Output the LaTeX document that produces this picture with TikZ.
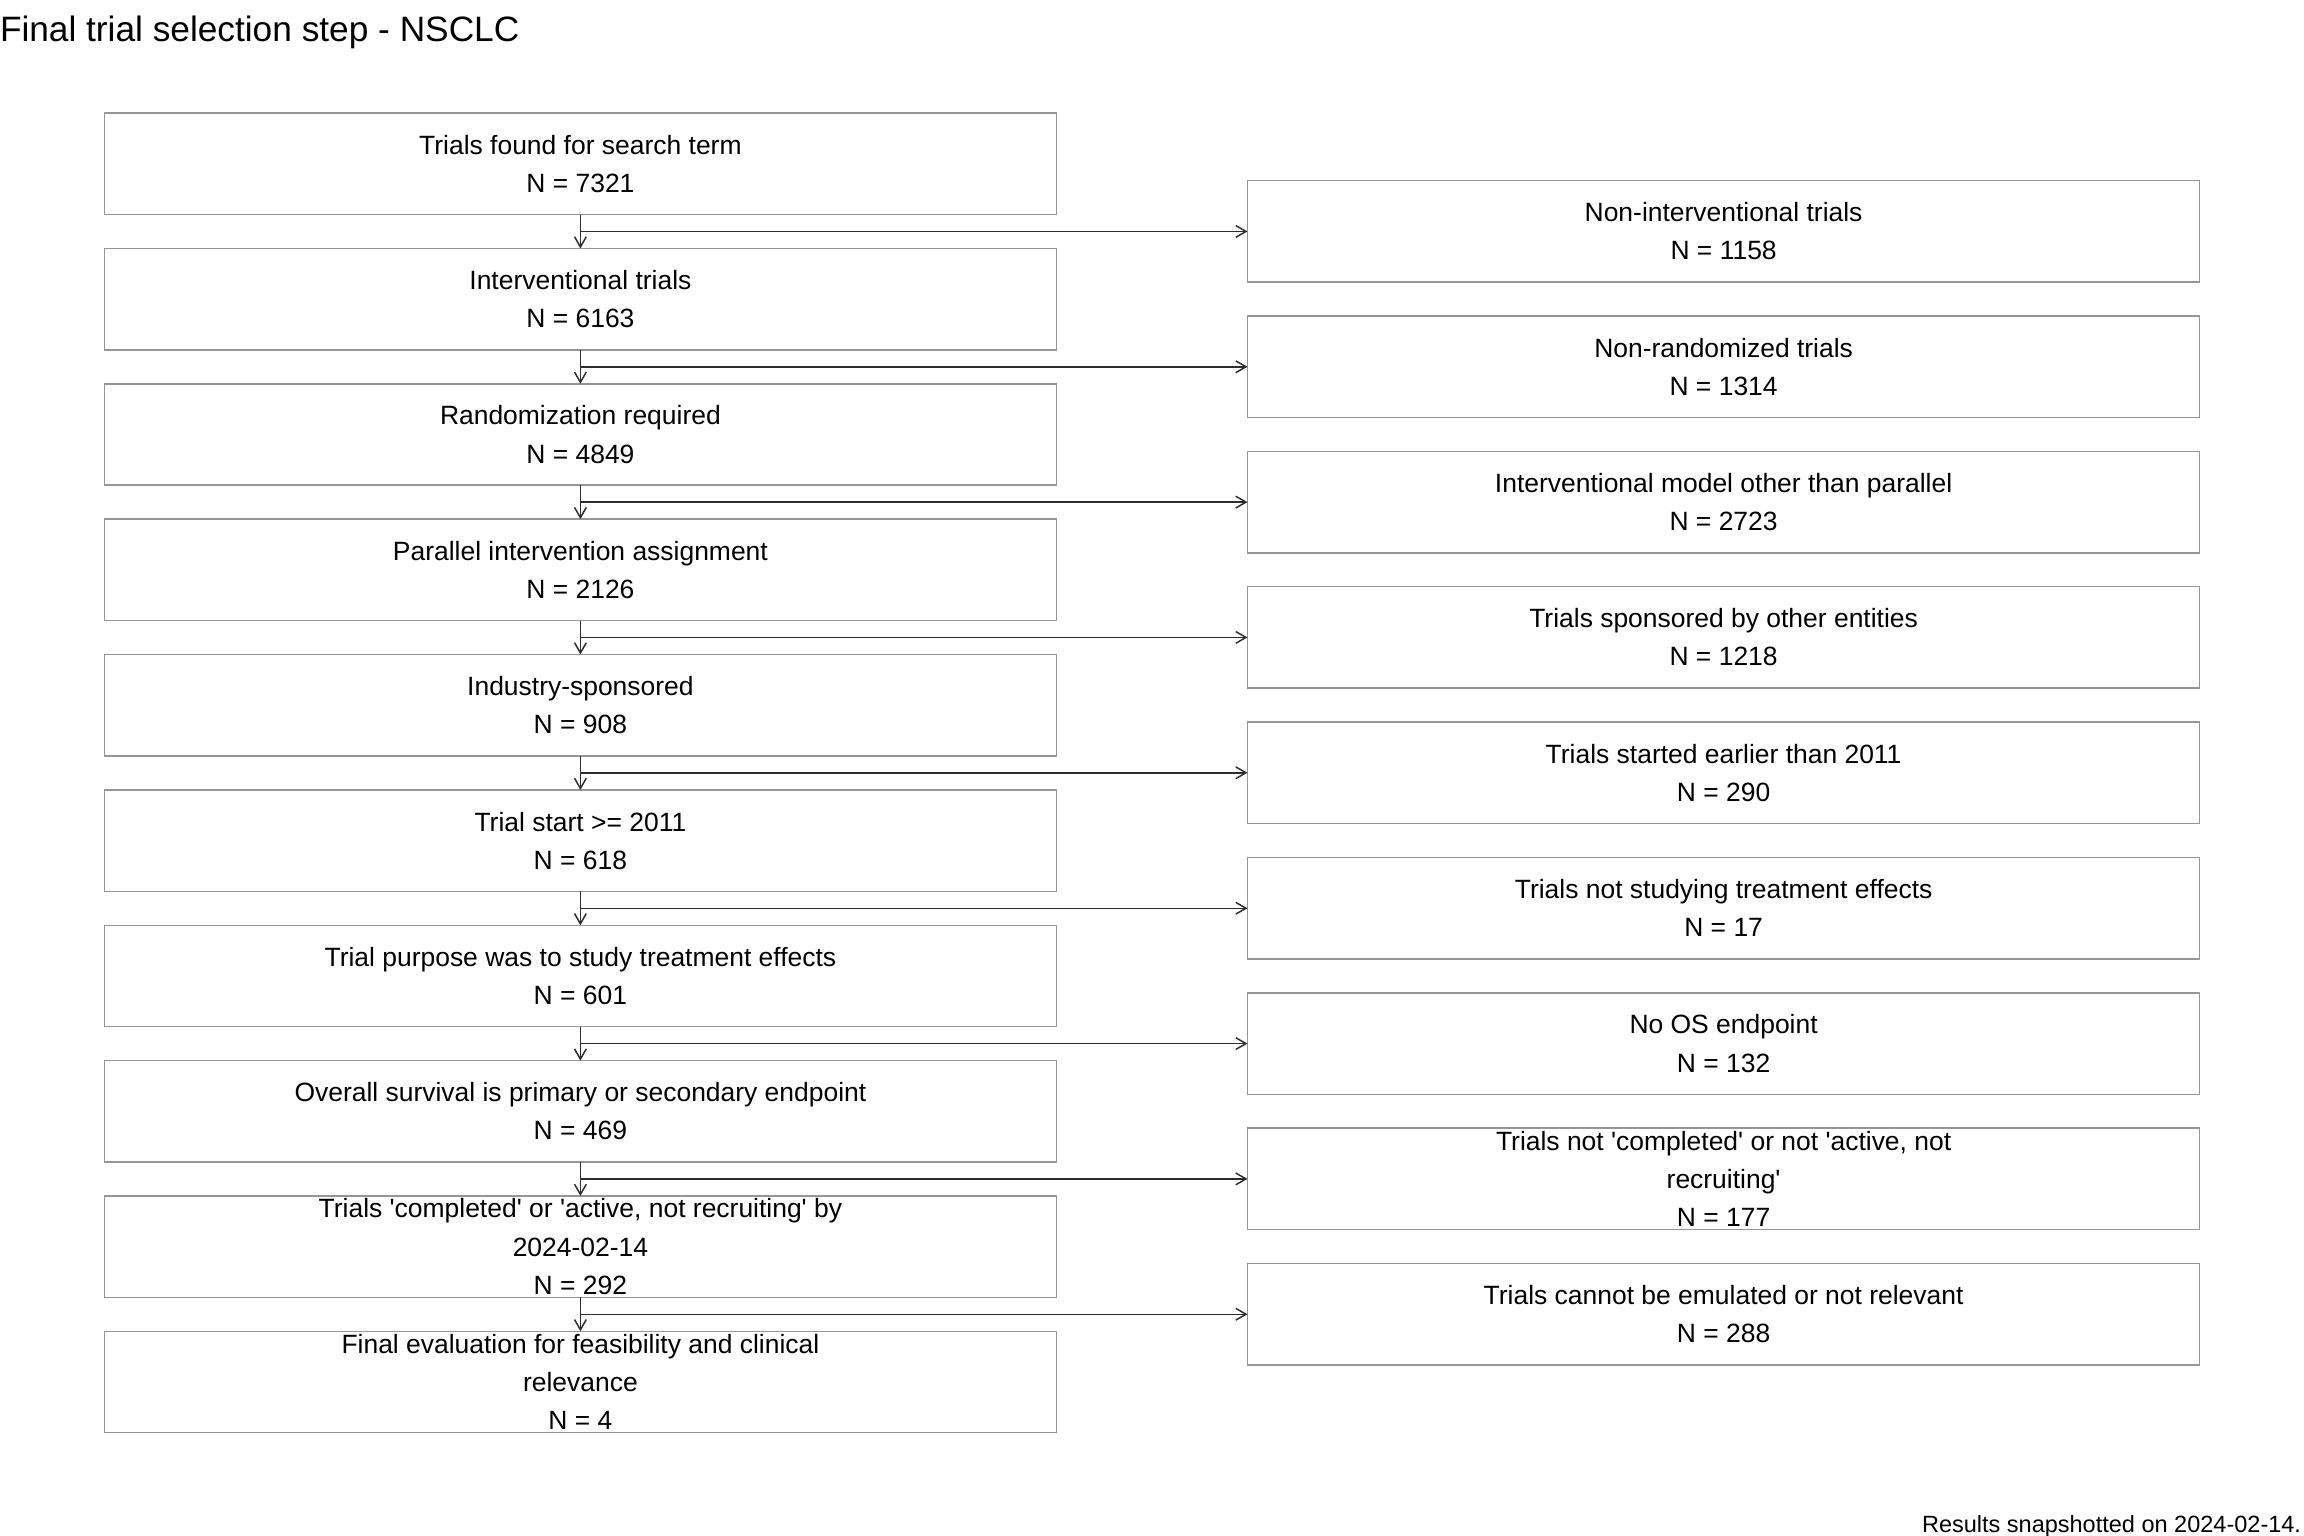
\documentclass[tikz,border=0pt]{standalone}
\usepackage{fontspec}
\setmainfont{Liberation Sans}
\usetikzlibrary{arrows.meta}
\definecolor{boxgray}{RGB}{150,150,150}
\definecolor{linegray}{RGB}{45,45,45}
\newcommand{\q}{\textquotesingle}
\begin{document}
\begin{tikzpicture}[x=1pt,y=-1pt,
  box/.style={draw=boxgray, line width=1pt, minimum width=648pt, minimum height=69pt,
    inner sep=0pt, outer sep=0pt, align=center, font=\fontsize{18}{26}\selectfont},
  conn/.style={draw=linegray, line width=1pt, -{Straight Barb[length=7pt,width=8pt]}},
  txt/.style={inner sep=0pt, outer sep=0pt}]
\useasboundingbox (0,0) rectangle (1568,1045);
\fill[white] (0,0) rectangle (1568,1045);

\node[txt, anchor=base west, font=\fontsize{24}{28}\selectfont] (title) at (0,28) {Final trial selection step - NSCLC};
\node[txt, anchor=base east, font=\fontsize{16}{20}\selectfont] (foot) at (1566,1043) {Results snapshotted on 2024-02-14.};

% left column
\node[box] (l0) at (395,111.5) {Trials found for search term\\N = 7321};
\node[box] (l1) at (395,203.6) {Interventional trials\\N = 6163};
\node[box] (l2) at (395,295.7) {Randomization required\\N = 4849};
\node[box] (l3) at (395,387.8) {Parallel intervention assignment\\N = 2126};
\node[box] (l4) at (395,479.9) {Industry-sponsored\\N = 908};
\node[box] (l5) at (395,572.1) {Trial start >= 2011\\N = 618};
\node[box] (l6) at (395,664.2) {Trial purpose was to study treatment effects\\N = 601};
\node[box] (l7) at (395,756.3) {Overall survival is primary or secondary endpoint\\N = 469};
\node[box] (l8) at (395,848.4) {Trials \q completed\q{} or \q active, not recruiting\q{} by\\2024-02-14\\N = 292};
\node[box] (l9) at (395,940.5) {Final evaluation for feasibility and clinical\\relevance\\N = 4};

% right column
\node[box] (r0) at (1173,157.5) {Non-interventional trials\\N = 1158};
\node[box] (r1) at (1173,249.6) {Non-randomized trials\\N = 1314};
\node[box] (r2) at (1173,341.7) {Interventional model other than parallel\\N = 2723};
\node[box] (r3) at (1173,433.8) {Trials sponsored by other entities\\N = 1218};
\node[box] (r4) at (1173,525.9) {Trials started earlier than 2011\\N = 290};
\node[box] (r5) at (1173,618.1) {Trials not studying treatment effects\\N = 17};
\node[box] (r6) at (1173,710.2) {No OS endpoint\\N = 132};
\node[box] (r7) at (1173,802.3) {Trials not \q completed\q{} or not \q active, not\\recruiting\q\\N = 177};
\node[box] (r8) at (1173,894.4) {Trials cannot be emulated or not relevant\\N = 288};

% connectors
\foreach \i [evaluate=\i as \j using int(\i+1)] in {0,...,8} {
  \draw[conn] (l\i.south) -- (l\j.north);
  \draw[conn] (l\i.south |- r\i.west) -- (r\i.west);
}
\end{tikzpicture}
\end{document}
